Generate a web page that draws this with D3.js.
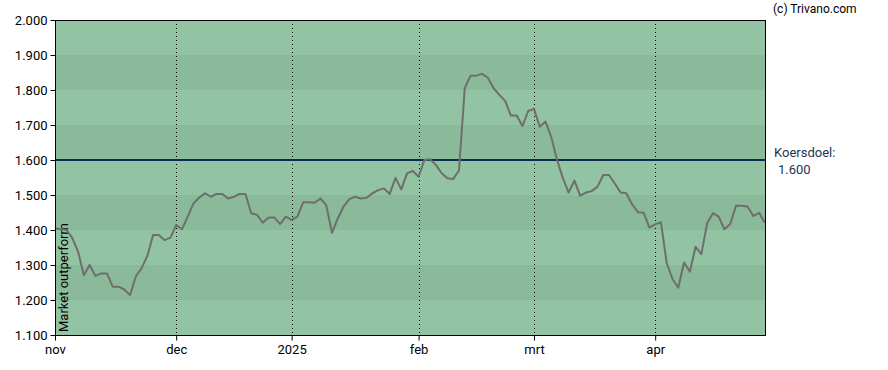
<!DOCTYPE html>
<html>
<head>
<meta charset="utf-8">
<script src="https://cdn.jsdelivr.net/npm/d3@7"></script>
<style>
body{margin:0;background:#fff;}
svg{display:block;font-family:Roboto,"Liberation Sans",Arial,sans-serif;}
</style>
</head>
<body>
<svg id="c" width="888" height="370"></svg>
<script>
const values = [1.405,1.402,1.400,1.377,1.338,1.271,1.300,1.269,1.276,1.276,
1.238,1.238,1.230,1.214,1.267,1.291,1.326,1.386,1.386,1.371,
1.378,1.414,1.402,1.438,1.476,1.493,1.505,1.495,1.503,1.503,
1.490,1.495,1.503,1.503,1.448,1.443,1.421,1.436,1.436,1.417,
1.438,1.429,1.438,1.479,1.479,1.478,1.490,1.471,1.392,1.433,
1.467,1.488,1.495,1.490,1.492,1.505,1.514,1.519,1.503,1.549,
1.516,1.562,1.569,1.552,1.600,1.602,1.586,1.562,1.548,1.546,
1.570,1.805,1.841,1.841,1.846,1.835,1.805,1.786,1.769,1.727,
1.727,1.697,1.740,1.746,1.695,1.710,1.665,1.600,1.548,1.507,
1.541,1.498,1.507,1.511,1.524,1.557,1.557,1.533,1.507,1.505,
1.473,1.451,1.449,1.407,1.416,1.422,1.305,1.260,1.235,1.307,
1.281,1.352,1.331,1.419,1.448,1.438,1.402,1.417,1.469,1.469,
1.467,1.440,1.449,1.421];
const monthLabels = ["nov","dec","2025","feb","mrt","apr"];
const monthIdx = [0,21,41,63,83,104];
const yTicks = [1.1,1.2,1.3,1.4,1.5,1.6,1.7,1.8,1.9,2.0];
const target = 1.6;

const svg = d3.select("#c");
const L=55, R=766, T=20, B=335;
const x = d3.scaleLinear().domain([0,123.2]).range([L,R]);
const y = d3.scaleLinear().domain([1.1,2.0]).range([B,T]);

// bands
const bands = d3.range(yTicks.length-1).map(i=>[yTicks[i],yTicks[i+1]]);
svg.append("g").selectAll("rect").data(bands).join("rect")
  .attr("x",L).attr("width",R-L)
  .attr("y",d=>y(d[1])).attr("height",d=>y(d[0])-y(d[1]))
  .attr("fill",(d,i)=> i%2===0 ? "#92c3a2" : "#8aba9a");

// vertical dotted gridlines
svg.append("g").selectAll("line").data(monthIdx.slice(1)).join("line")
  .attr("x1",d=>Math.round(x(d))+0.5).attr("x2",d=>Math.round(x(d))+0.5)
  .attr("y1",T).attr("y2",B)
  .attr("stroke","#000").attr("stroke-width",1).attr("stroke-dasharray","1,3");

// market outperform label
svg.append("text")
  .attr("transform",`translate(${L+13},${B-3}) rotate(-90)`)
  .attr("font-size",13).attr("fill","#000").text("Market outperform");

// target line
svg.append("line").attr("x1",L).attr("x2",R)
  .attr("y1",y(target)).attr("y2",y(target))
  .attr("stroke","#0b2e4f").attr("stroke-width",2);

// price line
svg.append("path").datum(values)
  .attr("fill","none").attr("stroke","#6e6e6e").attr("stroke-width",2)
  .attr("stroke-linejoin","round")
  .attr("d",d3.line().x((d,i)=>x(i)).y(d=>y(d)));

// frame
svg.append("rect").attr("x",L+0.5).attr("y",T+0.5).attr("width",R-L-1).attr("height",B-T)
  .attr("fill","none").attr("stroke","#000").attr("stroke-width",1);

// axes
const yAxis = d3.axisLeft(y).tickValues(yTicks).tickFormat(d3.format(".3f")).tickSize(5).tickPadding(3);
const gy = svg.append("g").attr("transform",`translate(${L+0.5},0)`).call(yAxis);
gy.select(".domain").remove();
gy.selectAll("text").attr("font-size",13).attr("fill","#000").attr("font-family","Roboto");

const xAxis = d3.axisBottom(x).tickValues(monthIdx).tickFormat((d,i)=>monthLabels[i]).tickSize(5).tickPadding(4);
const gx = svg.append("g").attr("transform",`translate(0,${B+0.5})`).call(xAxis);
gx.select(".domain").remove();
gx.selectAll("text").attr("font-size",13).attr("fill","#000").attr("font-family","Roboto");

// right labels
svg.append("text").attr("x",774).attr("y",157).attr("font-size",13).attr("fill","#1c3553").text("Koersdoel:");
svg.append("text").attr("x",778).attr("y",174).attr("font-size",13).attr("fill","#1c3553").text(d3.format(".3f")(target));
svg.append("text").attr("x",773).attr("y",13).attr("font-size",12).attr("fill","#000").text("(c) Trivano.com");
</script>
</body>
</html>
